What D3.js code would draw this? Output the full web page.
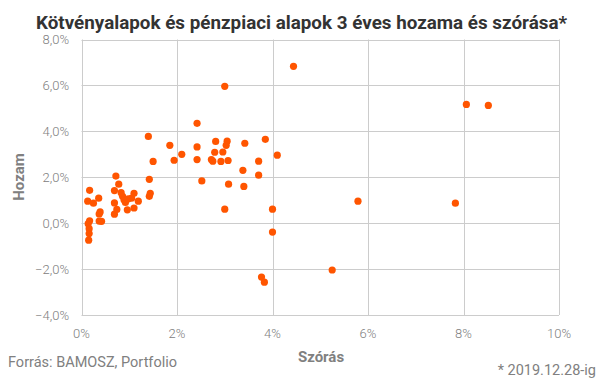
<!DOCTYPE html>
<html><head><meta charset="utf-8">
<script src="https://cdn.jsdelivr.net/npm/d3@7"></script>
<style>
html,body{margin:0;padding:0;background:#fff;}
svg{display:block;font-family:Roboto,"Noto Sans",sans-serif;}
</style></head>
<body>
<svg id="c" width="605" height="378"></svg>
<script>
// Szórás (%) values
const stdev = [
  0.17,0.13,0.25,0.36,0.39,0.37,0.37,0.42,0.17,0.14,0.16,0.16,0.15,
  0.72,0.78,0.69,0.83,1.10,1.05,0.86,0.89,0.92,0.98,1.19,0.69,0.96,1.10,0.74,0.69,
  1.40,1.50,1.42,1.44,1.42,
  1.85,2.10,1.94,2.42,2.42,2.42,2.81,3.05,3.03,2.79,2.96,2.72,2.75,2.92,3.07,2.52,3.08,
  3.00,3.42,3.85,4.10,3.71,3.38,3.71,3.40,3.00,4.00,4.00,3.77,3.83,5.25,5.79,7.83,8.06,8.52,4.44
];
// Hozam (%) values
const returns = [
  1.43,0.96,0.87,1.09,0.49,0.40,0.09,0.08,0.10,-0.02,-0.24,-0.45,-0.74,
  2.05,1.70,1.42,1.33,1.30,1.09,1.17,1.02,0.90,1.06,0.96,0.88,0.58,0.66,0.60,0.39,
  3.78,2.69,1.91,1.30,1.17,
  3.39,3.00,2.74,4.35,3.32,2.77,3.56,3.57,3.39,3.09,3.10,2.77,2.70,2.69,2.73,1.84,1.70,
  5.96,3.48,3.65,2.96,2.70,2.30,2.09,1.60,0.61,0.61,-0.39,-2.35,-2.57,-2.04,0.96,0.87,5.17,5.13,6.83
];
const xTicks = [0,2,4,6,8,10];
const yTicks = [-4,-2,0,2,4,6,8];
const title = "Kötvényalapok és pénzpiaci alapok 3 éves hozama és szórása*";
const xTitle = "Szórás";
const yTitle = "Hozam";
const source = "Forrás: BAMOSZ, Portfolio";
const note = "* 2019.12.28-ig";

const svg = d3.select("#c");
const x = d3.scaleLinear().domain([0,10]).range([81.5,559]);
const y = d3.scaleLinear().domain([-4,8]).range([315,39.5]);
const grid = "#cccccc";
const txt = "#808080";

// horizontal gridlines
svg.append("g").selectAll("line").data(yTicks).join("line")
  .attr("x1",x(0)).attr("x2",x(10))
  .attr("y1",d=>Math.round(y(d))+0.5).attr("y2",d=>Math.round(y(d))+0.5)
  .attr("stroke",grid).attr("stroke-width",1);
// vertical gridlines
svg.append("g").selectAll("line").data(xTicks).join("line")
  .attr("x1",d=>Math.round(x(d))+0.5).attr("x2",d=>Math.round(x(d))+0.5)
  .attr("y1",y(8)).attr("y2",y(-4))
  .attr("stroke",grid).attr("stroke-width",1);

// y tick labels
svg.append("g").selectAll("text").data(yTicks).join("text")
  .attr("x",69).attr("y",d=>y(d)+4.5)
  .attr("text-anchor","end").attr("fill",txt).attr("font-size",13).attr("font-weight",300)
  .text(d=>d3.format(".1f")(d).replace(".",",")+"%");
// x tick labels
svg.append("g").selectAll("text").data(xTicks).join("text")
  .attr("x",d=>x(d)).attr("y",338)
  .attr("text-anchor","middle").attr("fill",txt).attr("font-size",13).attr("font-weight",300)
  .text(d=>d+"%");

// points
svg.append("g").selectAll("circle").data(stdev.map((s,i)=>[s,returns[i]])).join("circle")
  .attr("cx",d=>x(d[0])).attr("cy",d=>y(d[1])).attr("r",3.6)
  .attr("fill","#ff5500");

// titles
svg.append("text").attr("x",36).attr("y",28.5).attr("fill","#333").attr("font-size",19)
  .attr("font-weight",700).attr("textLength",531).attr("lengthAdjust","spacingAndGlyphs").text(title);
svg.append("text").attr("x",321).attr("y",362).attr("text-anchor","middle").attr("fill",txt)
  .attr("font-size",15).attr("font-weight",700).text(xTitle);
svg.append("text").attr("transform","translate(24,177) rotate(-90)").attr("text-anchor","middle")
  .attr("fill",txt).attr("font-size",15).attr("font-weight",700).text(yTitle);
svg.append("text").attr("x",8).attr("y",367).attr("fill",txt).attr("font-size",14.5).text(source);
svg.append("text").attr("x",596).attr("y",375).attr("text-anchor","end").attr("fill",txt).attr("font-size",14.5).text(note);
</script>
</body></html>
